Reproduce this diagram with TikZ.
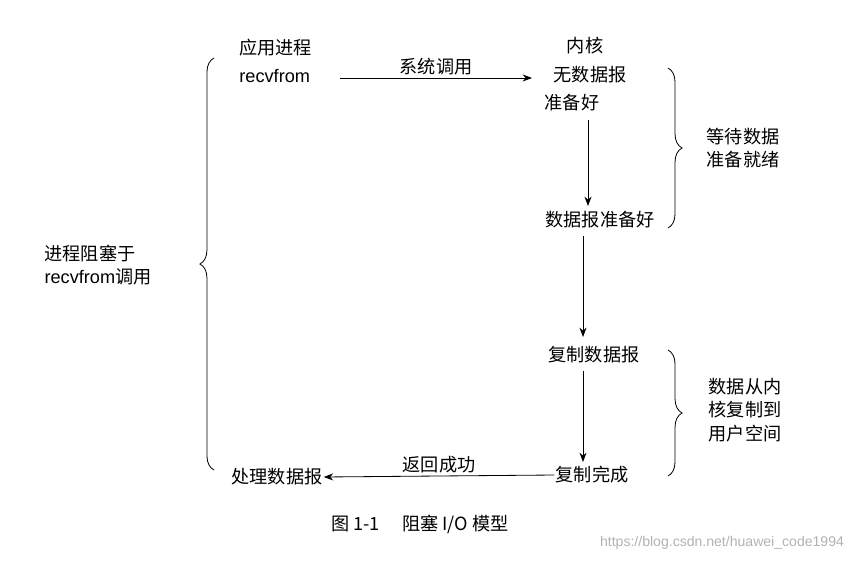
\documentclass[tikz,border=0pt]{standalone}
\usepackage{fontspec}
\setmainfont{Noto Sans CJK SC}
\newfontfamily\latinf{Liberation Sans}
\usetikzlibrary{decorations.pathreplacing,arrows.meta}
\begin{document}
\begin{tikzpicture}[x=0.03cm,y=-0.03cm,
  lbl/.style={font=\fontsize{15.5}{20}\selectfont,inner sep=1pt,align=center},
  arr/.style={-{Stealth[length=8pt,width=6pt]},line width=0.7pt},
  br/.style={decorate,decoration={brace,amplitude=12pt},line width=0.7pt}]
\useasboundingbox (0,0) rectangle (868,562);
\node[lbl,anchor=west] (app) at (238,48) {应用进程};
\node[lbl,anchor=west] (rf) at (238,76) {\latinf recvfrom};
\node[lbl] (k1) at (585,46) {内核};
\node[lbl] (k2) at (590,75) {无数据报};
\node[lbl] (k3) at (572,103) {准备好};
\node[lbl] (ready) at (600,220) {数据报准备好};
\node[lbl] (copy) at (594,355) {复制数据报};
\node[lbl] (done) at (592,475) {复制完成};
\node[lbl] (proc) at (277,477) {处理数据报};
\coordinate (a1) at (340,78); \coordinate (a2) at (532,78);
\draw[arr] (a1) -- node[lbl,above=1pt]{系统调用} (a2);
\draw[arr] (588,120) -- (588,206);
\draw[arr] (583,236) -- (583,337);
\draw[arr] (583,371) -- (583,462);
\draw[arr] (done.west) -- node[lbl,above=1pt]{返回成功} (proc.east);
\draw[br] (214,470) -- (214,58);
\node[lbl,align=left] (blk) at (98,265) {进程阻塞于\\{\latinf recvfrom}调用};
\draw[br] (668,68) -- (668,228);
\node[lbl,align=left] (w) at (743,148) {等待数据\\准备就绪};
\draw[br] (668,350) -- (668,476);
\node[lbl,align=left] (c) at (745,410) {数据从内\\核复制到\\用户空间};
\node[lbl] (cap) at (420,524) {图 1-1\quad\ 阻塞 I/O 模型};
\node[font=\latinf\fontsize{12}{14}\selectfont,text=black!30] (wm) at (722,543) {https://blog.csdn.net/huawei\_code1994};
\end{tikzpicture}
\end{document}
